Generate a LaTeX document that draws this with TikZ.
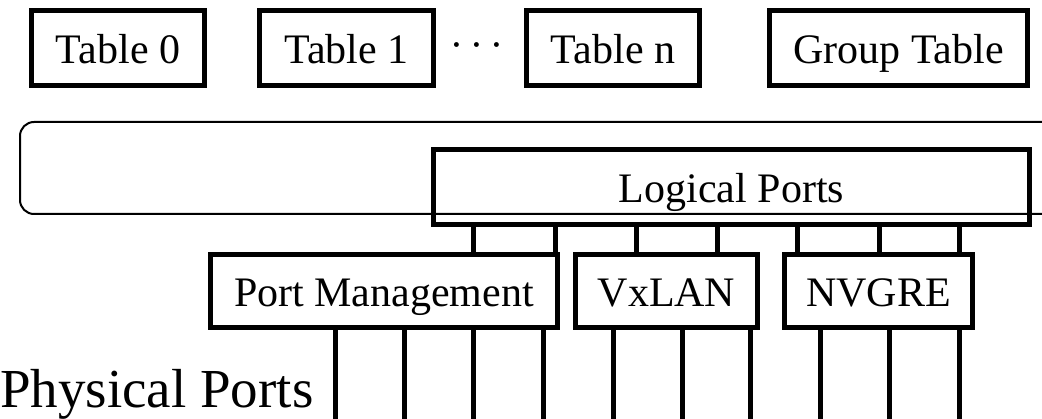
\RequirePackage{fix-cm}
\documentclass[tikz,border=0pt]{standalone}
\usepackage{fontspec}
\setmainfont{Liberation Serif}

\begin{document}
\begin{tikzpicture}[x=1pt,y=-1pt,
		box/.style={draw, line width=5pt, inner sep=0pt, minimum height=75pt, text height=32pt, text depth=0pt, font=\fontsize{42}{50}\selectfont},
		wire/.style={line width=5pt}]
		\useasboundingbox (0,0) rectangle (1042,419);
		\clip (0,0) rectangle (1042,419);
		\node[box, minimum width=173pt] (tab0) at (118,48) {Table 0};
		\node[box, minimum width=174pt] (tab1) at (346.5,48) {Table 1};
		\node[inner sep=0pt, font=\fontsize{46}{50}\selectfont] (dots) at (477,46) {$\cdots$};
		\node[box, minimum width=173pt] (tabn) at (613,48) {Table n};
		\node[box, minimum width=258pt] (group) at (898.5,48) {Group Table};
		\node[draw, line width=2pt, rounded corners=14pt, minimum width=1050pt, minimum height=92pt] (pipe) at (545,168) {};
		\node[box, minimum width=596pt] (logical) at (731.5,187) {Logical Ports};
		\node[box, minimum width=347pt, minimum height=73pt] (portmgmt) at (384,291) {Port Management};
		\node[box, minimum width=182pt, minimum height=73pt] (vxlan) at (666.5,291) {VxLAN};
		\node[box, minimum width=188pt, minimum height=73pt] (nvgre) at (878.5,291) {NVGRE};
		\node[anchor=base west, inner sep=0pt, font=\fontsize{55}{66}\selectfont] (phys) at (0,408) {Physical Ports};
		\foreach \x/\b in {473/portmgmt,555/portmgmt,636/vxlan,717/vxlan,797/nvgre,879/nvgre,959/nvgre} {
			\coordinate (up\x) at (\x,0);
			\draw[wire] (up\x |- logical.south) -- (up\x |- \b.north);
		}
		\foreach \x/\b in {335/portmgmt,404/portmgmt,473/portmgmt,543/portmgmt,613/vxlan,682/vxlan,750/vxlan,820/nvgre,889/nvgre,959/nvgre} {
			\coordinate (down\x) at (\x,419);
			\draw[wire] (down\x |- \b.south) -- (down\x);
		}
\end{tikzpicture}
\end{document}
